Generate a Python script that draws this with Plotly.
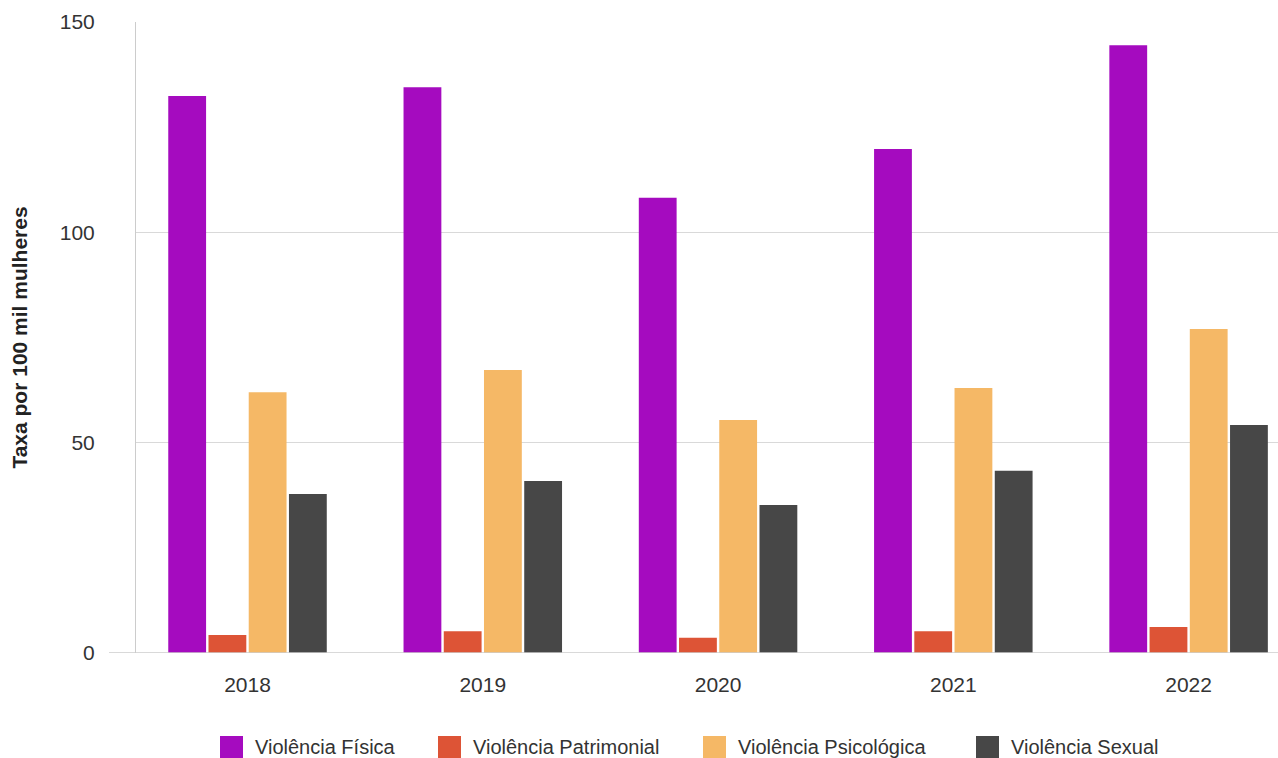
import plotly.graph_objects as go

anos = ["2018", "2019", "2020", "2021", "2022"]
fisica = [132.4, 134.5, 108.2, 119.8, 144.5]
patrimonial = [4.3, 5.2, 3.6, 5.2, 6.2]
psicologica = [62.0, 67.3, 55.4, 63.0, 77.0]
sexual = [37.8, 40.9, 35.2, 43.3, 54.2]

nomes = ["Violência Física", "Violência Patrimonial", "Violência Psicológica", "Violência Sexual"]
cores = ["#A50BBF", "#DD5436", "#F5B866", "#474747"]
valores = [fisica, patrimonial, psicologica, sexual]

# legend layout (paper px positions of the swatches)
leg_x_px = [220, 438, 703, 976]
W, H = 1278, 758
ML, MR, MT, MB = 136, 0, 22, 105
PW, PH = W - ML - MR, H - MT - MB

fig = go.Figure()
for nome, vals, cor in zip(nomes, valores, cores):
    fig.add_trace(go.Bar(x=anos, y=vals, name=nome, showlegend=False,
                         marker=dict(color=cor, line=dict(width=0))))

font = "Liberation Sans, Arial, sans-serif"
fig.update_layout(
    width=W, height=H,
    margin=dict(l=ML, r=MR, t=MT, b=MB),
    paper_bgcolor="white", plot_bgcolor="white",
    barmode="group", bargap=0.316, bargroupgap=0.06,
    font=dict(family=font, size=20, color="#333333"),
    showlegend=False,
    xaxis=dict(type="category", range=[-0.474, 4.380], showgrid=False, showline=False,
               ticks="", tickfont=dict(size=21, color="#333333"), ticklabelstandoff=17),
    yaxis=dict(range=[0, 150], tickvals=[0, 50, 100, 150], showgrid=True, gridcolor="#D9D9D9",
               gridwidth=1, showline=True, linecolor="#CCCCCC", linewidth=1, zeroline=False,
               ticks="", tickfont=dict(size=21, color="#333333"), ticklabelstandoff=36,
               title=dict(text="<b>Taxa por 100 mil mulheres</b>", font=dict(size=21, color="#222222"),
                          standoff=26)),
)
fig.add_shape(type="line", xref="paper", yref="y", x0=-(136 - 109) / PW, x1=1, y0=0, y1=0,
              line=dict(color="#CCCCCC", width=1.5))

def px_x(p):
    return (p - ML) / PW

def px_y(p):
    return (H - MB - p) / PH

for nome, cor, lx in zip(nomes, cores, leg_x_px):
    fig.add_shape(type="rect", xref="paper", yref="paper",
                  x0=px_x(lx), x1=px_x(lx + 23), y0=px_y(736), y1=px_y(758),
                  fillcolor=cor, line=dict(width=0))
    fig.add_annotation(xref="paper", yref="paper", x=px_x(lx + 33), y=px_y(747),
                       xanchor="left", yanchor="middle", text=nome, showarrow=False,
                       font=dict(size=20, color="#333333"))
fig.write_html("out.html")
